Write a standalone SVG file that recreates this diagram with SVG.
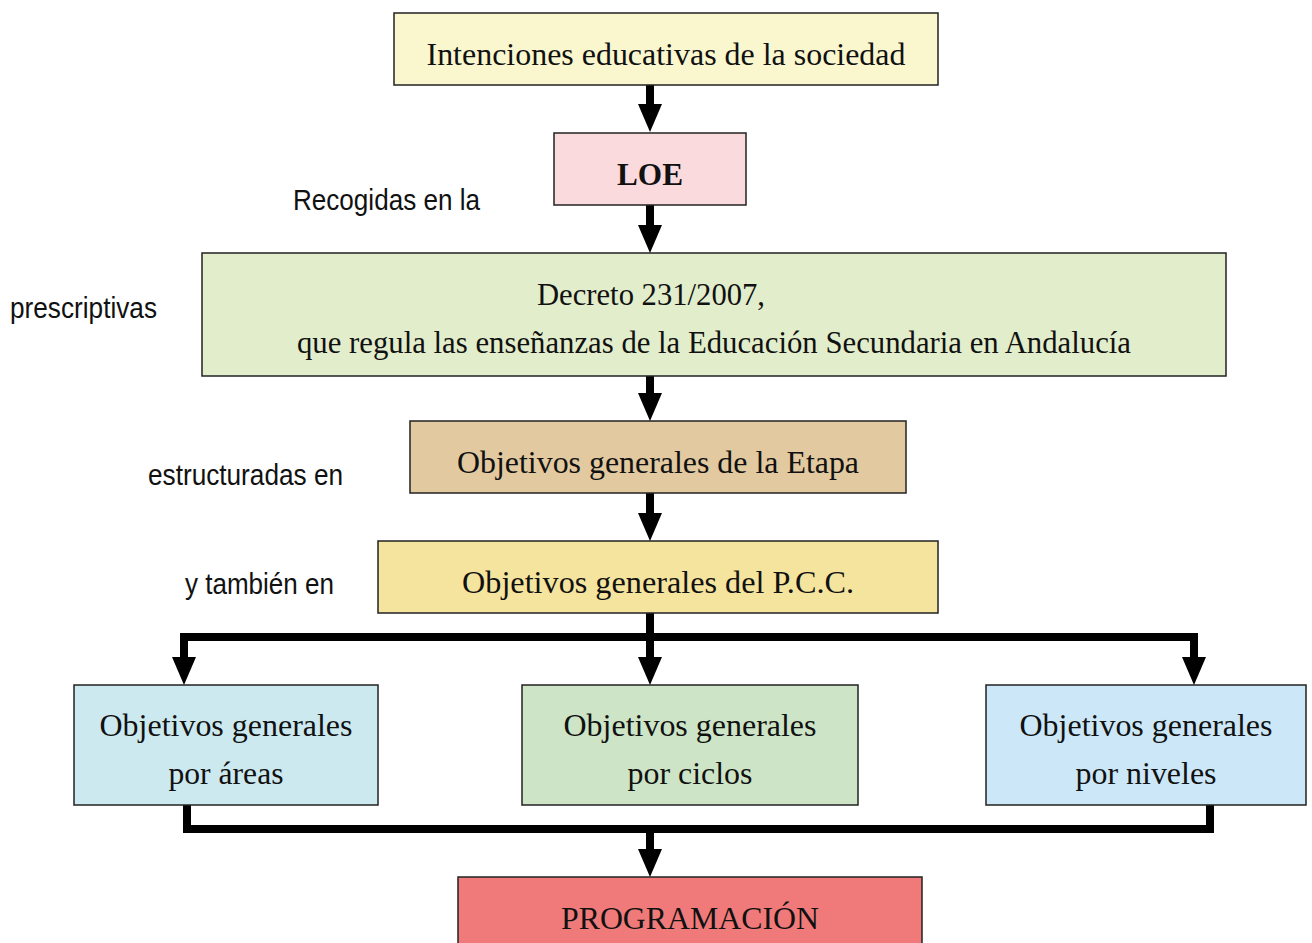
<svg xmlns="http://www.w3.org/2000/svg" width="1312" height="943" viewBox="0 0 1312 943">
<style>
.box{stroke:#222;stroke-width:1.5}
.t{font-family:"Liberation Serif","Times New Roman",serif;font-size:31px;fill:#111;text-anchor:middle}
.l{font-family:"Liberation Sans",Arial,sans-serif;font-size:30px;fill:#111}
.c{fill:none;stroke:#000;stroke-width:8}
</style>
<defs>
<marker id="ah" markerUnits="userSpaceOnUse" viewBox="0 0 28 24" markerWidth="28" markerHeight="24" refX="0" refY="12" orient="auto">
<path d="M0,0 L28,12 L0,24 z" fill="#000"/>
</marker>
</defs>
<rect width="1312" height="943" fill="#fff"/>
<g id="connectors">
<path class="c" d="M650,85 V104" marker-end="url(#ah)"/>
<path class="c" d="M650,205 V225" marker-end="url(#ah)"/>
<path class="c" d="M650,376 V393" marker-end="url(#ah)"/>
<path class="c" d="M650,493 V513" marker-end="url(#ah)"/>
<path class="c" d="M650,613 V657" marker-end="url(#ah)"/>
<path class="c" d="M184,657 V637 H1194 V657" />
<path class="c" d="M184,637 V657" marker-end="url(#ah)"/>
<path class="c" d="M1194,637 V657" marker-end="url(#ah)"/>
<path class="c" d="M187,805 V829 H1210 V805"/>
<path class="c" d="M650,829 V849" marker-end="url(#ah)"/>
</g>
<g id="n1"><rect class="box" x="394" y="13" width="544" height="72" fill="#FAF7CF"/><text class="t" x="666" y="65" textLength="479" lengthAdjust="spacingAndGlyphs">Intenciones educativas de la sociedad</text></g>
<g id="n2"><rect class="box" x="554" y="133" width="192" height="72" fill="#FADADD"/><text class="t" x="650" y="185" font-weight="bold" textLength="66" lengthAdjust="spacingAndGlyphs">LOE</text></g>
<g id="n3"><rect class="box" x="202" y="253" width="1024" height="123" fill="#E2EDCB"/><text class="t" x="651" y="305" textLength="228" lengthAdjust="spacingAndGlyphs">Decreto 231/2007,</text><text class="t" x="714" y="353" textLength="834" lengthAdjust="spacingAndGlyphs">que regula las enseñanzas de la Educación Secundaria en Andalucía</text></g>
<g id="n4"><rect class="box" x="410" y="421" width="496" height="72" fill="#E2C9A0"/><text class="t" x="658" y="473" textLength="402" lengthAdjust="spacingAndGlyphs">Objetivos generales de la Etapa</text></g>
<g id="n5"><rect class="box" x="378" y="541" width="560" height="72" fill="#F5E49E"/><text class="t" x="658" y="593" textLength="392" lengthAdjust="spacingAndGlyphs">Objetivos generales del P.C.C.</text></g>
<g id="n6"><rect class="box" x="74" y="685" width="304" height="120" fill="#CDE9F0"/><text class="t" x="226" y="736" textLength="253" lengthAdjust="spacingAndGlyphs">Objetivos generales</text><text class="t" x="226" y="784" textLength="115" lengthAdjust="spacingAndGlyphs">por áreas</text></g>
<g id="n7"><rect class="box" x="522" y="685" width="336" height="120" fill="#CDE5C6"/><text class="t" x="690" y="736" textLength="253" lengthAdjust="spacingAndGlyphs">Objetivos generales</text><text class="t" x="690" y="784" textLength="125" lengthAdjust="spacingAndGlyphs">por ciclos</text></g>
<g id="n8"><rect class="box" x="986" y="685" width="320" height="120" fill="#CCE8F8"/><text class="t" x="1146" y="736" textLength="253" lengthAdjust="spacingAndGlyphs">Objetivos generales</text><text class="t" x="1146" y="784" textLength="141" lengthAdjust="spacingAndGlyphs">por niveles</text></g>
<g id="n9"><rect class="box" x="458" y="877" width="464" height="80" fill="#F07A7A"/><text class="t" x="690" y="929" textLength="258" lengthAdjust="spacingAndGlyphs">PROGRAMACIÓN</text></g>
<g id="labels">
<text class="l" x="293" y="210" textLength="187" lengthAdjust="spacingAndGlyphs">Recogidas en la</text>
<text class="l" x="10" y="318" textLength="147" lengthAdjust="spacingAndGlyphs">prescriptivas</text>
<text class="l" x="148" y="485" textLength="195" lengthAdjust="spacingAndGlyphs">estructuradas en</text>
<text class="l" x="185" y="594" textLength="149" lengthAdjust="spacingAndGlyphs">y también en</text>
</g>
</svg>
